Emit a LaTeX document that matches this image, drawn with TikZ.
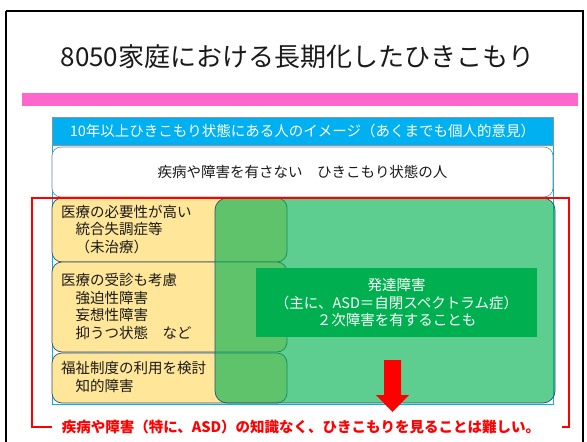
\documentclass[tikz,border=0pt]{standalone}
\usepackage{fontspec}
\setmainfont{Noto Sans CJK JP}
\definecolor{hdrblue}{HTML}{00B0F0}
\definecolor{pinkbar}{HTML}{FF66CC}
\definecolor{yel}{HTML}{FFE699}
\definecolor{grn}{HTML}{00B050}
\definecolor{edge}{HTML}{2F5070}
\definecolor{txt}{HTML}{1A1A1A}
\tikzset{
  boxbase/.style={rectangle, anchor=north west, inner sep=0pt, outer sep=0pt},
  yelbox/.style={boxbase, fill=yel, draw=edge, line width=0.7pt, rounded corners=10pt},
  bodytext/.style={font=\fontsize{14.5}{17.5}\selectfont, text=txt, inner sep=0pt, align=left},
}
\begin{document}
\begin{tikzpicture}[x=1pt,y=-1pt]
\useasboundingbox (0,0) rectangle (587,442);
\fill[white] (0,0) rectangle (587,442);
% outer frame
\draw[line width=2pt] (6,11) -- (6,460) (6,11) -- (583,11) -- (583,460);
% title
\node[font=\fontsize{26}{30}\selectfont, text=txt, inner sep=0pt] (title) at (297.5,57) {8050家庭における長期化したひきこもり};
% pink bar
\node[boxbase, fill=pinkbar, minimum width=556pt, minimum height=13pt] (pink) at (22,93) {};
% panel
\node[boxbase, fill=white, draw=hdrblue, line width=0.8pt, minimum width=501pt, minimum height=259pt] (panel) at (52,145) {};
% header
\node[boxbase, fill=hdrblue, draw=edge!60, line width=0.5pt, minimum width=501pt, minimum height=28pt] (header) at (52,117) {};
\node[font=\fontsize{14.5}{17}\selectfont, text=white, inner sep=0pt] (headertext) at (header.center) {10年以上ひきこもり状態にある人のイメージ（あくまでも個人的意見）};
% white box
\node[boxbase, fill=white, draw=edge!70, line width=0.6pt, rounded corners=9pt, minimum width=501pt, minimum height=50pt] (none) at (52,147) {};
\node[font=\fontsize{14.5}{17}\selectfont, text=txt, inner sep=0pt] (nonetext) at (none.center) {疾病や障害を有さない　ひきこもり状態の人};
% yellow boxes
\node[yelbox, minimum width=235pt, minimum height=64pt] (y1) at (52,198) {};
\node[yelbox, minimum width=235pt, minimum height=90pt] (y2) at (52,262) {};
\node[yelbox, minimum width=235pt, minimum height=50pt] (y3) at (52,353) {};
\node[bodytext, anchor=west] (y1text) at (61,229.5) {医療の必要性が高い\\　統合失調症等\\　（未治療）};
\node[bodytext, anchor=west] (y2text) at (61,306.5) {医療の受診も考慮\\　強迫性障害\\　妄想性障害\\　抑うつ状態　など};
\node[bodytext, anchor=west] (y3text) at (61,377) {福祉制度の利用を検討\\　知的障害};
% big green box
\node[boxbase, fill=grn, fill opacity=0.63, draw=edge, line width=0.7pt, rounded corners=12pt, minimum width=340pt, minimum height=205pt] (green) at (215,198) {};
% dark green box
\node[boxbase, fill=grn, minimum width=281pt, minimum height=69pt] (dev) at (256,268) {};
\node[font=\fontsize{14.5}{17.5}\selectfont, text=white, inner sep=0pt, align=center] (devtext) at (dev.center) {発達障害\\（主に、ASD＝自閉スペクトラム症）\\２次障害を有することも};
% red arrow
\fill[red] (384,360) -- (401,360) -- (401,395) -- (409,395) -- (392.5,412) -- (376,395) -- (384,395) -- cycle;
% red note and bracket
\node[font=\bfseries\fontsize{14.5}{17}\selectfont, text=red, inner sep=0pt] (note) at (301,427) {疾病や障害（特に、ASD）の知識なく、ひきこもりを見ることは難しい。};
\coordinate (bl) at (52,427);
\coordinate (br) at (562,427);
\draw[red, line width=2pt] (bl) -- (32,427) -- (32,198) -- (569,198) -- (569,427) -- (br);
\end{tikzpicture}
\end{document}
